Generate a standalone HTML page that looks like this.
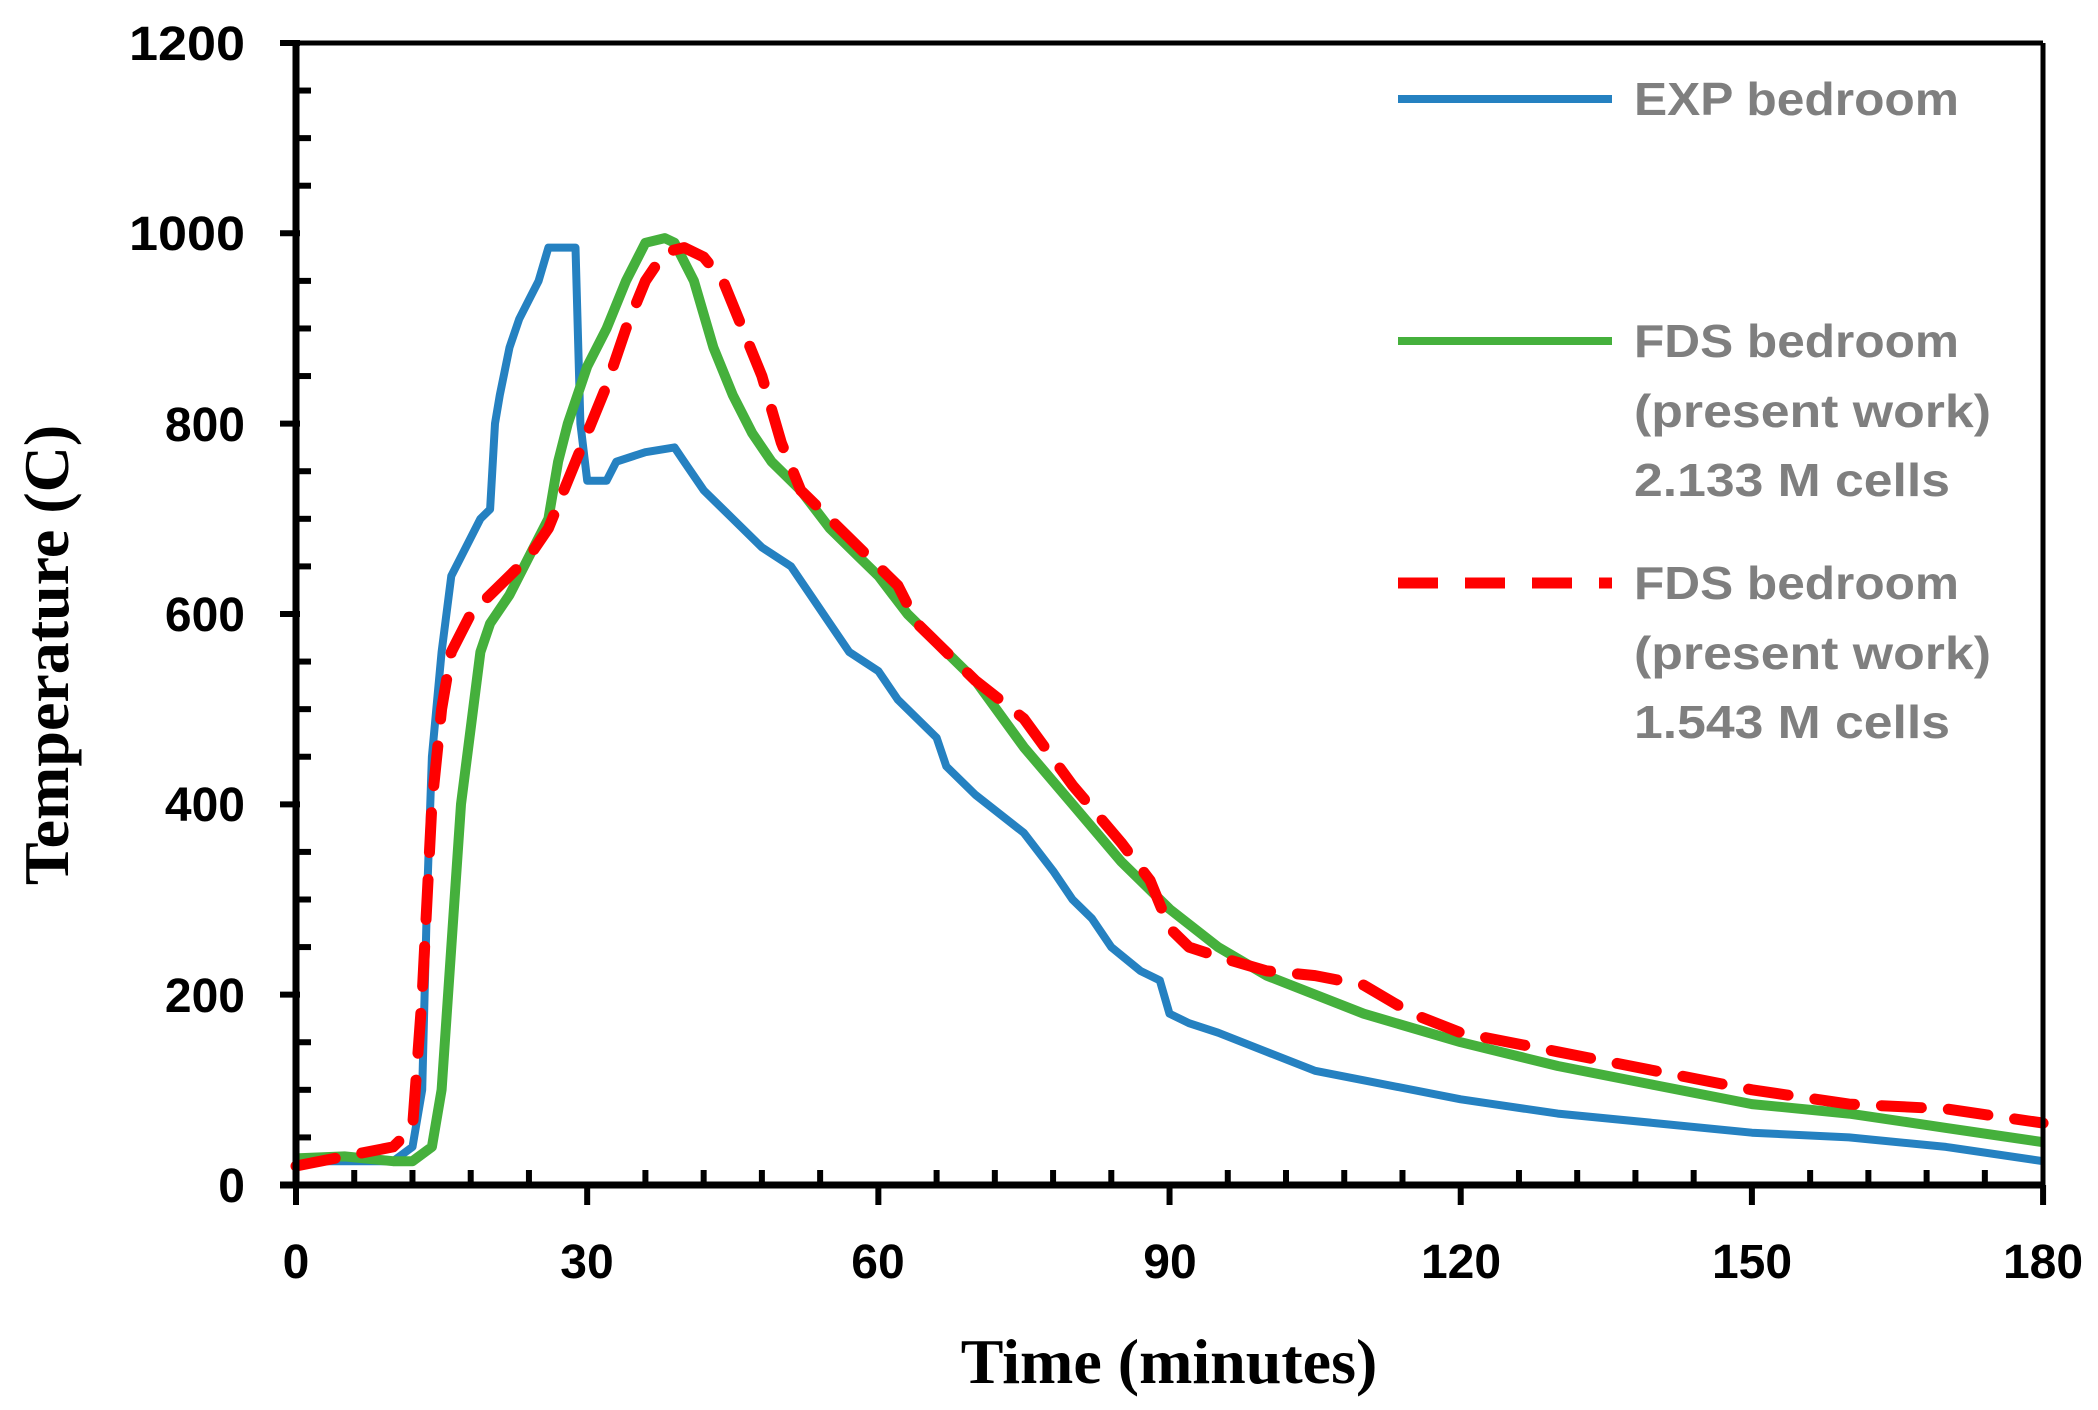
<!DOCTYPE html>
<html><head><meta charset="utf-8"><style>
html,body{margin:0;padding:0;background:#fff;}
svg{display:block;}
</style></head><body>
<svg id="s" width="2098" height="1410" viewBox="0 0 2098 1410" xmlns="http://www.w3.org/2000/svg">
<rect width="2098" height="1410" fill="#fff"/>
<g id="ticks"></g>
<g id="series" fill="none" stroke-linejoin="round"></g>
<line x1="296" y1="43" x2="2043" y2="43" stroke="#000" stroke-width="5"/>
<line x1="2043" y1="43" x2="2043" y2="1185" stroke="#000" stroke-width="5"/>
<line x1="296" y1="40" x2="296" y2="1188" stroke="#000" stroke-width="7"/>
<line x1="280" y1="1185" x2="2045" y2="1185" stroke="#000" stroke-width="7"/>
<g font-family="Liberation Sans, sans-serif" font-weight="bold" font-size="48" fill="#000" text-anchor="end">
<text x="245" y="60" textLength="116" lengthAdjust="spacingAndGlyphs">1200</text>
<text x="245" y="250" textLength="116" lengthAdjust="spacingAndGlyphs">1000</text>
<text x="245" y="441">800</text>
<text x="245" y="631">600</text><text x="245" y="821">400</text><text x="245" y="1012">200</text><text x="245" y="1202">0</text>
</g>
<g font-family="Liberation Sans, sans-serif" font-weight="bold" font-size="48" fill="#000" text-anchor="middle">
<text x="296" y="1278">0</text><text x="587" y="1278">30</text><text x="878" y="1278">60</text>
<text x="1170" y="1278">90</text><text x="1461" y="1278">120</text><text x="1752" y="1278">150</text><text x="2043" y="1278">180</text>
</g>
<text x="1169" y="1383" font-family="Liberation Serif, serif" font-weight="bold" font-size="64" text-anchor="middle">Time (minutes)</text>
<text transform="translate(68,655) rotate(-90)" font-family="Liberation Serif, serif" font-weight="bold" font-size="64" text-anchor="middle">Temperature (C)</text>
<g stroke-width="8">
<line x1="1398" y1="99" x2="1612" y2="99" stroke="#2581c1"/>
<line x1="1398" y1="341" x2="1612" y2="341" stroke="#45b03c"/>
<line x1="1398" y1="583" x2="1612" y2="583" stroke="#ff0000" stroke-width="11" stroke-dasharray="40,27"/>
</g>
<g font-family="Liberation Sans, sans-serif" font-weight="bold" font-size="46" fill="#7f7f7f">
<text x="1634" y="115" textLength="325" lengthAdjust="spacingAndGlyphs">EXP bedroom</text>
<text x="1634" y="357" textLength="325" lengthAdjust="spacingAndGlyphs">FDS bedroom</text>
<text x="1634" y="427" textLength="357" lengthAdjust="spacingAndGlyphs">(present work)</text>
<text x="1634" y="496" textLength="316" lengthAdjust="spacingAndGlyphs">2.133 M cells</text>
<text x="1634" y="599" textLength="325" lengthAdjust="spacingAndGlyphs">FDS bedroom</text>
<text x="1634" y="669" textLength="357" lengthAdjust="spacingAndGlyphs">(present work)</text>
<text x="1634" y="738" textLength="316" lengthAdjust="spacingAndGlyphs">1.543 M cells</text>
</g>
</svg>
<script>
var X=function(t){return 296+t*9.706},Y=function(v){return 1185-v*0.9517};
var tk=document.getElementById("ticks"),h="";
for(var v=0;v<=1200;v+=50){var y=Y(v);if(v%200==0)h+='<line x1="280" y1="'+y+'" x2="300" y2="'+y+'" stroke="#000" stroke-width="6"/>';else h+='<line x1="296" y1="'+y+'" x2="311" y2="'+y+'" stroke="#000" stroke-width="6"/>';}
for(var t=0;t<=180;t+=6){var x=X(t);if(t%30==0)h+='<line x1="'+x+'" y1="1185" x2="'+x+'" y2="1205" stroke="#000" stroke-width="6"/>';else h+='<line x1="'+x+'" y1="1170" x2="'+x+'" y2="1185" stroke="#000" stroke-width="6"/>';}
tk.innerHTML=h;
var blue=[0,25,10,25,12,40,13,100,13.5,300,14,450,15,560,16,640,17,660,19,700,20,710,20.5,800,21,830,22,880,23,910,24,930,25,950,26,985,28,985,28.8,985,29.3,800,30,740,32,740,33,760,36,770,39,775,40,760,42,730,45,700,48,670,51,650,53,620,55,590,57,560,60,540,62,510,66,470,67,440,70,410,75,370,78,330,80,300,82,280,84,250,87,225,89,215,90,180,92,170,95,160,100,140,105,120,110,110,120,90,130,75,140,65,150,55,160,50,170,40,180,25];
var green=[0,28,5,30,10,25,12,25,14,40,15,100,16,250,17,400,18,480,19,560,20,590,22,620,24,660,26,700,27,760,28,800,30,860,32,900,34,950,36,990,38,995,39,990,41,950,43,880,45,830,47,790,49,760,52,730,55,690,58,660,60,640,63,600,66,570,70,530,75,460,80,400,85,340,90,290,95,250,100,220,110,180,120,150,130,125,140,105,150,85,160,75,170,60,180,45];
var red=[0,20,5,30,10,40,12,60,13,200,14,400,15,500,16,560,18,600,20,620,24,660,26,690,28,740,30,790,32,840,34,900,36,950,38,980,40,985,42,975,44,950,46,900,48,850,50,780,52,730,55,700,58,670,60,650,62,630,64,590,66,570,70,530,75,490,80,420,85,360,88,320,90,270,92,250,95,240,100,225,105,220,110,210,115,180,120,160,130,140,140,120,150,100,160,85,170,80,180,65];
function pts(a){var s=[];for(var i=0;i<a.length;i+=2)s.push(X(a[i]).toFixed(1)+","+Y(a[i+1]).toFixed(1));return s.join(" ");}
document.getElementById("series").innerHTML=
'<polyline points="'+pts(blue)+'" stroke="#2581c1" stroke-width="8"/>'+
'<polyline points="'+pts(green)+'" stroke="#45b03c" stroke-width="10"/>'+
'<polyline points="'+pts(red)+'" stroke="#ff0000" stroke-width="11" stroke-dasharray="40,27" stroke-linecap="round"/>';
</script>
</body></html>
